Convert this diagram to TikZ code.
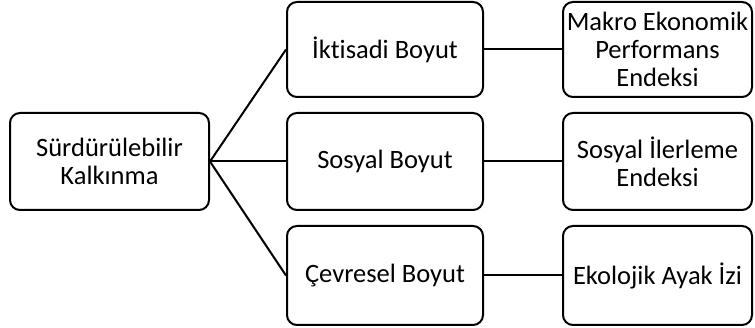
\documentclass[tikz,border=0pt]{standalone}
\usepackage{fontspec}
\setmainfont{Carlito}[Ligatures=NoCommon]
\usepackage{tikz}

\begin{document}
\begin{tikzpicture}[x=1pt,y=-1pt,
  kutu/.style={draw,line width=2pt,rounded corners=10pt,align=center,
    font=\fontsize{26.5}{28}\selectfont,inner sep=0pt},
  baglanti/.style={line width=2pt}]
\useasboundingbox (0,0) rectangle (755,328);
\node[kutu,minimum width=199pt,minimum height=97pt] (sk) at (109.5,161.5) {Sürdürülebilir\\Kalkınma};
\node[kutu,minimum width=196pt,minimum height=95pt] (ib) at (385,49.5) {İktisadi Boyut};
\node[kutu,minimum width=196pt,minimum height=97pt] (sb) at (385,161.5) {Sosyal Boyut};
\node[kutu,minimum width=196pt,minimum height=99pt] (cb) at (385,275.5) {Çevresel Boyut};
\node[kutu,minimum width=189pt,minimum height=95pt] (mep) at (657.5,49.5) {Makro Ekonomik\\Performans\\Endeksi};
\node[kutu,minimum width=189pt,minimum height=97pt] (sie) at (657.5,161.5) {Sosyal İlerleme\\Endeksi};
\node[kutu,minimum width=189pt,minimum height=99pt] (eai) at (657.5,275.5) {Ekolojik Ayak İzi};
\draw[baglanti] (sk.east) -- (ib.west);
\draw[baglanti] (sk.east) -- (sb.west);
\draw[baglanti] (sk.east) -- (cb.west);
\draw[baglanti] (ib) -- (mep);
\draw[baglanti] (sb) -- (sie);
\draw[baglanti] (cb) -- (eai);
\end{tikzpicture}
\end{document}
